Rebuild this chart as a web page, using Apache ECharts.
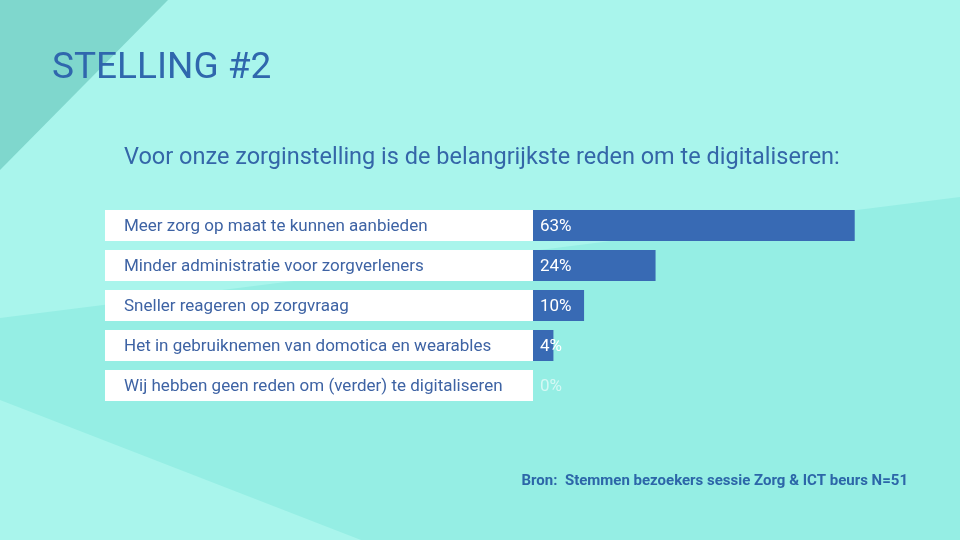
<!DOCTYPE html>
<html>
<head>
<meta charset="utf-8">
<script src="https://cdn.jsdelivr.net/npm/echarts@6/dist/echarts.min.js"></script>
<style>html,body{margin:0;padding:0;background:#95eee4}#c{width:960px;height:540px}</style>
</head>
<body>
<div id="c"></div>
<script>
const categories = [
  'Meer zorg op maat te kunnen aanbieden',
  'Minder administratie voor zorgverleners',
  'Sneller reageren op zorgvraag',
  'Het in gebruiknemen van domotica en wearables',
  'Wij hebben geen reden om (verder) te digitaliseren'
];
const percentages = [63, 24, 10, 4, 0];
const titleText = 'STELLING #2';
const subtitleText = 'Voor onze zorginstelling is de belangrijkste reden om te digitaliseren:';
const sourceText = 'Bron:  Stemmen bezoekers sessie Zorg & ICT beurs N=51';

const FONT = 'Roboto, "DejaVu Sans", sans-serif';
const chart = echarts.init(document.getElementById('c'), null, {renderer: 'canvas'});

const barData = percentages.map(v => ({
  value: v,
  label: { color: v === 0 ? 'rgba(255,255,255,0.6)' : '#ffffff' }
}));

chart.setOption({
  backgroundColor: '#95eee4',
  animation: false,
  graphic: [
    { type: 'polygon', z: -100, silent: true, shape: { points: [[0,0],[960,0],[960,197],[0,318]] }, style: { fill: '#a9f5ec' } },
    { type: 'polygon', z: -90, silent: true, shape: { points: [[0,0],[168,0],[0,170]] }, style: { fill: '#7fd7cd' } },
    { type: 'polygon', z: -100, silent: true, shape: { points: [[0,400],[361,540],[0,540]] }, style: { fill: '#a9f5ec' } }
  ],
  title: [
    { text: titleText, left: 47, top: 45, textStyle: { fontFamily: FONT, fontSize: 37, fontWeight: 'normal', color: '#2f67ad' } },
    { text: subtitleText, left: 119, top: 141, textStyle: { fontFamily: FONT, fontSize: 23.5, fontWeight: 'normal', color: '#3466a8' } },
    { text: sourceText, right: 47, top: 469, textStyle: { fontFamily: FONT, fontSize: 15, fontWeight: 'bold', color: '#2c66a8' } }
  ],
  grid: { left: 533, right: 44, top: 205.5, height: 200, containLabel: false },
  xAxis: {
    type: 'value', min: 0, max: 75, show: false
  },
  yAxis: {
    type: 'category',
    data: categories,
    inverse: true,
    axisLine: { show: false },
    axisTick: { show: false },
    axisLabel: {
      interval: 0,
      margin: 0,
      formatter: v => '{box|' + v + '}',
      rich: {
        box: {
          width: 409,
          height: 29,
          padding: [2, 0, 0, 19],
          backgroundColor: '#ffffff',
          align: 'left',
          fontFamily: FONT,
          fontSize: 17,
          color: '#3e63a4'
        }
      }
    }
  },
  series: [{
    type: 'bar',
    data: barData,
    barWidth: 31,
    itemStyle: { color: '#386ab4' },
    label: {
      show: true,
      position: 'insideLeft',
      distance: 7,
      formatter: '{c}%',
      fontFamily: FONT,
      fontSize: 17,
      offset: [0, 1]
    }
  }]
});
</script>
</body>
</html>
